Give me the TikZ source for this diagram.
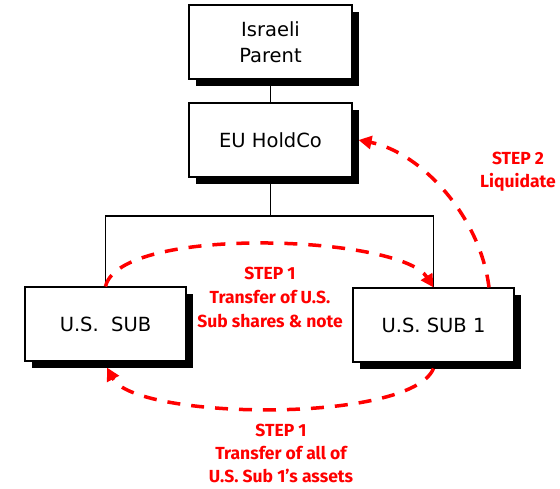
\documentclass[tikz,border=0pt]{standalone}
\usepackage{fontspec}
\setmainfont{DejaVu Sans}
\newfontfamily\stepfont{Fira Sans}
\usetikzlibrary{arrows.meta,shadows}
\begin{document}
\begin{tikzpicture}[x=1pt,y=-1pt,
  entity/.style={draw=black, line width=1.1pt, fill=white,
    minimum width=163pt, minimum height=74pt, inner sep=0pt, align=center,
    font=\fontsize{19.5}{26}\selectfont,
    drop shadow={shadow xshift=7pt, shadow yshift=-7pt, fill=black, opacity=1}},
  link/.style={draw=black, line width=1.1pt},
  move/.style={draw=red, line width=3.5pt, dash pattern=on 13pt off 11pt,
    -{Triangle[length=13pt,width=13pt]}},
  steptext/.style={text=red, align=center, inner sep=0pt, anchor=north,
    font=\stepfont\bfseries\fontsize{17.5}{23}\selectfont}]

\useasboundingbox (0,0) rectangle (560,488);

% ownership boxes
\node[entity] (parent) at (270.5,42) {Israeli\\Parent};
\node[entity] (hold) at (270.5,140) {EU HoldCo};
\node[entity, minimum width=161pt] (usa) at (105.5,324) {U.S.\ \ SUB};
\node[entity, minimum width=161pt] (usb) at (433.5,325) {U.S. SUB 1};

% ownership lines
\coordinate (bus) at (270.5,216);
\draw[link] (parent) -- (hold);
\draw[link] (hold) -- (bus);
\draw[link] (usa.north) |- (bus) -| (usb.north);

% restructuring steps
\draw[move] (usa.north) .. controls (120,225) and (400,235) .. (usb.north);
\draw[move] ([yshift=-6pt]usb.south) .. controls (410,424) and (135,420) .. ([xshift=1.5pt,yshift=-6pt]usa.south);
\draw[move] ([xshift=55.5pt]usb.north) .. controls (480,215) and (420,152) .. ([xshift=6pt]hold.east);

% step labels
\node[steptext, font=\stepfont\bfseries\fontsize{17.5}{24}\selectfont] (t1) at (270,267) {STEP 1\\Transfer of U.S.\\Sub shares \& note};
\node[steptext] (t2) at (518,152) {STEP 2\\Liquidate};
\node[steptext] (t3) at (281,424) {STEP 1\\Transfer of all of\\U.S. Sub 1’s assets};
\end{tikzpicture}
\end{document}
